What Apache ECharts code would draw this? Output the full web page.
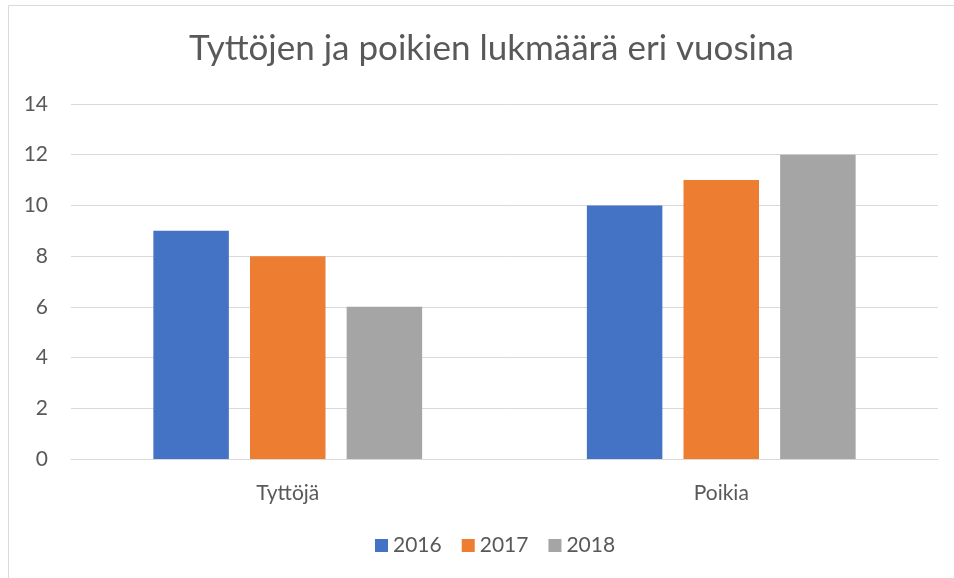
<!DOCTYPE html>
<html>
<head>
<meta charset="utf-8">
<script src="https://cdn.jsdelivr.net/npm/echarts@6/dist/echarts.min.js"></script>
<style>
  html, body { margin: 0; padding: 0; background: #fff; }
  #chart { width: 954px; height: 578px; }
</style>
</head>
<body>
<div id="chart"></div>
<script>
const categories = ['Tyttöjä', 'Poikia'];
const years = ['2016', '2017', '2018'];
const values2016 = [9, 10];
const values2017 = [8, 11];
const values2018 = [6, 12];
const colors = ['#4472c4', '#ed7d31', '#a5a5a5'];

const font = 'Lato, "Open Sans", sans-serif';
const textColor = '#595959';

const chart = echarts.init(document.getElementById('chart'));

const seriesData = [values2016, values2017, values2018];

chart.setOption({
	animation: false,
	color: colors,
	graphic: [{
		type: 'rect',
		shape: { x: 8.5, y: 5.5, width: 1000, height: 700 },
		style: { fill: 'none', stroke: '#d9d9d9', lineWidth: 1 },
		silent: true
	}],
	title: {
		text: 'Tyttöjen ja poikien lukmäärä eri vuosina',
		left: 184,
		top: 26,
		textStyle: {
			fontFamily: font,
			fontSize: 35,
			fontWeight: 'normal',
			color: textColor
		}
	},
	legend: {
		bottom: 17,
		left: 370,
		itemWidth: 13,
		itemHeight: 13,
		itemGap: 20,
		icon: 'rect',
		textStyle: { fontFamily: font, fontSize: 21, color: textColor }
	},
	grid: {
		left: 71,
		right: 16,
		top: 104,
		bottom: 119
	},
	xAxis: {
		type: 'category',
		data: categories,
		axisTick: { show: false },
		axisLine: { lineStyle: { color: '#d9d9d9', width: 1 } },
		axisLabel: {
			fontFamily: font,
			fontSize: 21,
			color: textColor,
			margin: 24
		}
	},
	yAxis: {
		type: 'value',
		min: 0,
		max: 14,
		interval: 2,
		axisLine: { show: false },
		axisTick: { show: false },
		splitLine: { lineStyle: { color: '#d9d9d9', width: 1 } },
		axisLabel: {
			fontFamily: font,
			fontSize: 21,
			color: textColor,
			margin: 23
		}
	},
	series: years.map((y, i) => ({
		name: y,
		type: 'bar',
		data: seriesData[i],
		barGap: '28%',
		barCategoryGap: '38%'
	}))
});

window.addEventListener('resize', () => chart.resize());
</script>
</body>
</html>
